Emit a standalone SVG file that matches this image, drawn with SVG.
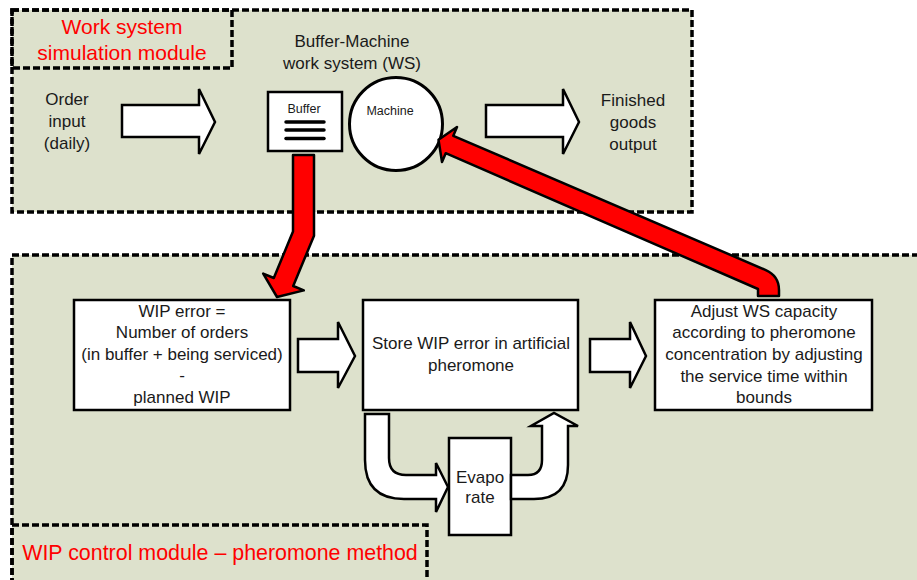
<svg xmlns="http://www.w3.org/2000/svg" width="917" height="580" viewBox="0 0 917 580">
<style>
.mod{fill:#dde1cc;stroke:#000;stroke-width:3.5;stroke-dasharray:7 3}
.ttl{fill:none;stroke:#000;stroke-width:3.5;stroke-dasharray:7 3}
.box{fill:#fff;stroke:#000;stroke-width:2.5}
.warr{fill:#fff;stroke:#000;stroke-width:2.5;stroke-linejoin:miter}
.rarr{fill:#ff0000;stroke:#000;stroke-width:2.5;stroke-linejoin:round}
text{font-family:"Liberation Sans",Arial,sans-serif;fill:#1a1a1a}
.t{font-size:17px;text-anchor:middle}
.s{font-size:12.5px;text-anchor:middle}
.red{font-size:21px;fill:#ff0000;text-anchor:middle}
</style>
<rect width="917" height="580" fill="#fff"/>
<g id="ws-module">
<rect class="mod" x="12" y="10" width="680" height="202"/>
<rect class="ttl" x="12" y="10" width="220" height="58"/>
<text class="red" x="122" y="34">Work system</text>
<text class="red" x="122" y="60">simulation module</text>
</g>
<g id="wip-module">
<rect class="mod" x="12" y="255" width="920" height="340"/>
<rect class="ttl" x="12" y="525" width="415" height="70"/>
<text class="red" x="220" y="560" style="font-size:21.4px">WIP control module – pheromone method</text>
</g>
<g id="order-input">
<text class="t" x="67" y="105">Order</text>
<text class="t" x="67" y="127">input</text>
<text class="t" x="67" y="149">(daily)</text>
</g>
<g id="ws-label">
<text class="t" x="352" y="47">Buffer-Machine</text>
<text class="t" x="352" y="69">work system (WS)</text>
</g>
<g id="buffer">
<rect class="box" x="268" y="92" width="74" height="59"/>
<text class="s" x="304" y="113">Buffer</text>
<g stroke="#000" stroke-width="3.5" stroke-linecap="round">
<line x1="286" y1="122" x2="324" y2="122"/>
<line x1="286" y1="130" x2="324" y2="130"/>
<line x1="286" y1="138.5" x2="324" y2="138.5"/>
</g>
</g>
<g id="machine">
<circle cx="396" cy="124" r="46.5" fill="#fff" stroke="#000" stroke-width="3"/>
<text class="s" x="390" y="115">Machine</text>
</g>
<g id="finished">
<text class="t" x="633" y="106">Finished</text>
<text class="t" x="633" y="128">goods</text>
<text class="t" x="633" y="150">output</text>
</g>
<g id="wip-error">
<rect class="box" x="74" y="300" width="216" height="110"/>
<text class="t" x="182" y="317">WIP error =</text>
<text class="t" x="182" y="338">Number of orders</text>
<text class="t" x="182" y="360">(in buffer + being serviced)</text>
<text class="t" x="182" y="381">-</text>
<text class="t" x="182" y="403">planned WIP</text>
</g>
<g id="store">
<rect class="box" x="363" y="300" width="215" height="110"/>
<text class="t" x="471" y="349">Store WIP error in artificial</text>
<text class="t" x="471" y="371">pheromone</text>
</g>
<g id="adjust">
<rect class="box" x="655" y="300" width="217" height="110"/>
<text class="t" x="764" y="317">Adjust WS capacity</text>
<text class="t" x="764" y="338">according to pheromone</text>
<text class="t" x="764" y="360">concentration by adjusting</text>
<text class="t" x="764" y="382">the service time within</text>
<text class="t" x="764" y="403">bounds</text>
</g>
<g id="evapo">
<rect class="box" x="449" y="438" width="62" height="97"/>
<text class="t" x="480" y="483">Evapo</text>
<text class="t" x="480" y="503">rate</text>
</g>
<g id="connectors">
<path class="warr" d="M122,105 L199,105 L199,89 L215,122 L199,154 L199,137 L122,137 Z"/>
<path class="warr" d="M486,105 L563,105 L563,89 L579,122 L563,154 L563,137 L486,137 Z"/>
<path class="warr" d="M298,339 L338,339 L338,322 L355,356 L338,388 L338,372 L298,372 Z"/>
<path class="warr" d="M590,339 L630,339 L630,322 L646,356 L630,388 L630,372 L590,372 Z"/>
<path class="warr" d="M365,414 L389,414 L389,458 Q389,475 406,475 L436,475 L436,463 L448,487 L436,512 L436,499 L404,499 Q365,499 365,460 Z"/>
<path class="warr" d="M511,475 L528,475 Q542,475 542,460 L542,426 L531,426 L554,413 L578,426 L568,426 L568,465 Q568,499 534,499 L511,499 Z"/>
<path class="rarr" d="M293,155 L314,155 L314,235.7 L293.2,286 L303.8,290.4 L277,297 L263.2,273.6 L273.8,278 L293,231.5 Z"/>
<path class="rarr" d="M453.3,135.8 L765.8,270.1 Q779,276 779,290 L779,296 L758,296 L758,289 L445.7,153.2 L442,162 L438.5,139.8 L457,127 Z"/>
</g>
</svg>
